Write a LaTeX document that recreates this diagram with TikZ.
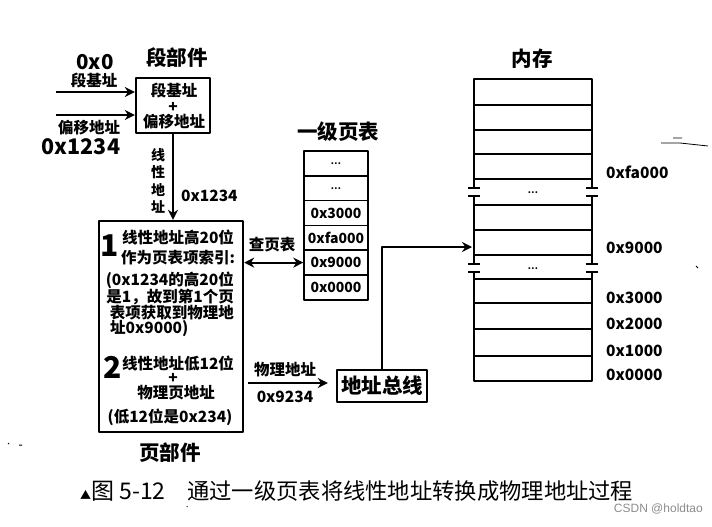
\documentclass[tikz,border=0pt]{standalone}
\usepackage{fontspec}
\setmainfont{Noto Sans CJK SC}
\newfontfamily\wmfont{Liberation Sans}
\usetikzlibrary{arrows.meta}
\newcommand{\gapdots}{\raisebox{-3pt}{\fontsize{9}{10}\selectfont .\kern.3pt.\kern.3pt.}}
\tikzset{
	lab/.style={inner sep=0pt, text height=12pt, text depth=1.5pt, font=\bfseries\fontsize{15.5}{18}\selectfont},
	head/.style={inner sep=0pt, font=\bfseries\fontsize{20.5}{24}\selectfont},
	numb/.style={inner sep=0pt, font=\bfseries\fontsize{30}{32}\selectfont},
	box/.style={draw, line width=2.4pt, inner sep=0pt},
	cell/.style={draw, line width=1.5pt, inner sep=0pt, minimum width=64pt, minimum height=24.8pt, font=\bfseries\fontsize{14}{16}\selectfont},
	memline/.style={line width=1.5pt},
	conn/.style={line width=2pt},
}
\begin{document}
\begin{tikzpicture}[x=1pt, y=-1pt, >={Stealth[length=10pt,width=10pt]}, line join=round]
	\useasboundingbox (0,0) rectangle (712,527);
	% segment unit
	\node[box, minimum width=74pt, minimum height=55pt] (seg) at (173,105.5) {};
	\node[head] (segT) at (177,58) {段部件};
	\node[lab] (segA) at (174,91) {段基址};
	\node[lab] (segP) at (173,107) {+};
	\node[lab] (segB) at (174,122) {偏移地址};
	\path (56,92) coordinate (inA) (56,115) coordinate (inB);
	\draw[conn,->] (inA)--(inA -| seg.west);
	\draw[conn,->] (inB)--(inB -| seg.west);
	\node[head] (baseV) at (95,62) {0x0};
	\node[lab] (baseL) at (94,81) {段基址};
	\node[lab] (offL) at (89,128) {偏移地址};
	\node[head, font=\bfseries\fontsize{21.5}{24}\selectfont] (offV) at (81,147) {0x1234};
	% page unit
	\node[box, minimum width=144pt, minimum height=211pt] (page) at (171,326.5) {};
	\node[head] (pageT) at (170,453) {页部件};
	\draw[conn,->] (seg.south)--(seg.south |- page.north);
	\node[inner sep=0pt, align=center, font=\bfseries\fontsize{14}{17.5}\selectfont] (linL) at (158,181) {线\\性\\地\\址};
	\node[lab, anchor=west] (linV) at (181,196) {0x1234};
	\node[numb] (numA) at (110,246) {1};
	\node[lab] (ln1) at (178,238) {线性地址高20位};
	\node[lab] (ln2) at (178,258) {作为页表项索引:};
	\node[lab, anchor=east] (ln3) at (234,280) {(0x1234的高20位};
	\node[lab, anchor=east] (ln4) at (234,297) {是1，故到第1个页};
	\node[lab, anchor=east] (ln5) at (234,313) {表项获取到物理地};
	\node[lab, anchor=west] (ln6) at (110,328) {址0x9000)};
	\node[numb] (numB) at (113,367) {2};
	\node[lab] (ln7) at (178,364) {线性地址低12位};
	\node[lab] (ln8) at (173,378) {+};
	\node[lab] (ln9) at (176,393) {物理页地址};
	\node[lab] (ln10) at (170,417) {(低12位是0x234)};
	% page table
	\node[head] (tabT) at (338,132) {一级页表};
	\foreach \yc/\nm/\txt in {163.4/r1/\gapdots,188.2/r2/\gapdots,213/r3/0x3000,237.8/r4/0xfa000,262.6/r5/0x9000,287.4/r6/0x0000}
		\node[cell] (\nm) at (336,\yc) {\txt};
	\node[lab] (qry) at (272,245) {查页表};
	\draw[conn,<->] (r5.west -| page.east)--(r5.west);
	% address bus
	\node[box, minimum width=90pt, minimum height=32pt, font=\bfseries\fontsize{20.5}{24}\selectfont] (bus) at (382,386) {地址总线};
	\path (248,383) coordinate (physIn) (472,247) coordinate (memIn);
	\draw[conn,->, shorten >=8pt] (physIn)--(physIn -| bus.west);
	\node[lab] (physL) at (285,370) {物理地址};
	\node[lab] (physV) at (285,397) {0x9234};
	\draw[line width=1.6pt,->] (bus.north) |- (memIn);
	% memory
	\node[head] (memT) at (532,59) {内存};
	\foreach \ya/\yb in {79/105,105/130,130/154,154/179,205/230,230/255,279/303,303/329,329/356,356/381}
		\draw[memline] (474,\ya) rectangle (592,\yb);
	\foreach \xa in {474,592} {
		\draw[memline] (\xa,179)--(\xa,188) (\xa,196)--(\xa,205) (\xa,255)--(\xa,264) (\xa,272)--(\xa,279);
		\foreach \ya in {188,196,264,272}
			\draw[memline] (\xa-6,\ya)--(\xa+6,\ya);
	}
	\node[inner sep=0pt, font=\bfseries] (gapA) at (533,192) {\gapdots};
	\node[inner sep=0pt, font=\bfseries] (gapB) at (533,268) {\gapdots};
	\foreach \ya/\nm/\txt in {173/mA/0xfa000,248/mB/0x9000,298/mC/0x3000,324/mD/0x2000,351/mE/0x1000,375/mF/0x0000}
		\node[lab, anchor=west] (\nm) at (606,\ya) {\txt};
	% caption
	\node[inner sep=0pt, anchor=west, font=\fontsize{22}{26}\selectfont] (capA) at (80,491) {\fontsize{11}{14}\selectfont▲\fontsize{23}{26}\selectfont 图 5-12};
	\node[inner sep=0pt, anchor=west, font=\fontsize{22.3}{26}\selectfont] (capB) at (187,491) {通过一级页表将线性地址转换成物理地址过程};
	\node[inner sep=0pt, anchor=east, text=black!45, font=\wmfont\fontsize{12}{14}\selectfont] (mark) at (703,509) {CSDN @holdtao};
	% scan specks
	\draw[line width=.8pt] (661,143)--(680,143)--(708,146) (673,138)--(682,138);
	\draw[line width=1pt] (8,443)--(9,444) (19,445)--(22,445) (696,266)--(698,268) (187,506)--(187,507);
\end{tikzpicture}
\end{document}
